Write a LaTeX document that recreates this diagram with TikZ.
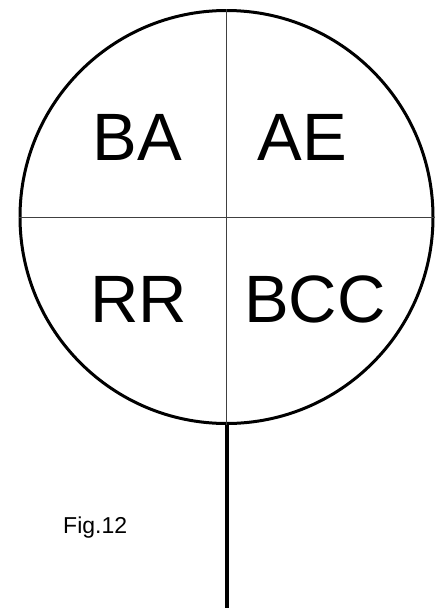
\documentclass[tikz,border=0pt]{standalone}
\usepackage{fontspec}
\setmainfont{Liberation Sans}
\usetikzlibrary{positioning}
\tikzset{
    disc/.style={circle, draw, line width=3pt, minimum size=413pt, inner sep=0},
    divider/.style={line width=1pt, draw=black!75},
    stem/.style={line width=4pt},
    quad/.style={font=\fontsize{67}{67}\selectfont, inner sep=0, anchor=center},
    caption/.style={font=\fontsize{23}{23}\selectfont, inner sep=0, anchor=base west},
}
\begin{document}
\begin{tikzpicture}[x=1pt, y=-1pt]
    \useasboundingbox (0,0) rectangle (437,608);
    \node[disc] (sign) at (226.5,217) {};
    \coordinate (foot) at (226.5,608);

    \draw[divider] (sign.north) -- (sign.south);
    \draw[divider] (sign.west) -- (sign.east);
    \draw[stem] (sign.south) -- (foot);

    \node[quad] (ba) at (137.5,137.5) {BA};
    \node[quad] (ae) at (302.5,137.5) {AE};
    \node[quad] (rr) at (139,299.5) {RR};
    \node[quad] (bcc) at (315,299.5) {BCC};
    \node[caption] (fig) at (63,533) {Fig.12};
\end{tikzpicture}
\end{document}
